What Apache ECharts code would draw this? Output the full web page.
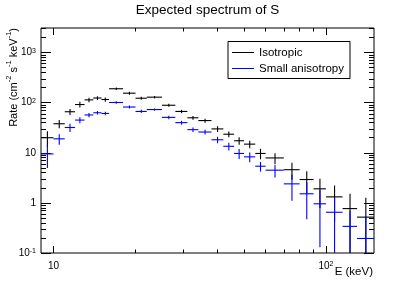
<!DOCTYPE html>
<html><head><meta charset="utf-8">
<script src="https://cdn.jsdelivr.net/npm/echarts@6/dist/echarts.min.js"></script>
<style>html,body{margin:0;padding:0;background:#fff}#c{width:415px;height:281px}</style>
</head><body><div id="c"></div>
<script>
// ---- data ----
const energyLow  = [9,10,11,12,13,14,15,16,18,20,22,25,28,31,34,38,42,46,50,55,60,70,80,90,100,115,130];
const energyHigh = [10,11,12,13,14,15,16,18,20,22,25,28,31,34,38,42,46,50,55,60,70,80,90,100,115,130,150];
const isotropicRate = [20,38,66,92,114,124,116,190,155,123,129,89,67,50,44,30,23.5,17.4,14.9,9.7,7.9,4.6,2.93,1.91,1.32,0.77,0.52];
const isotropicErr  = [7,7,9,12,12,11,11,11,10,9,7,6,5,4.5,4,4,3,3,2.5,2.3,1.9,1.7,1.37,1.12,0.9,0.75,0.75];
const anisotropyRate = [9.5,19,32,45,57,63,61,101,82,67,73,51,40,29,26,18.2,13.5,9.7,8.3,5.4,4.5,2.4,1.52,0.96,0.65,0.34,0.195];
const anisotropyErr  = [4.5,4.5,6,6,5.5,5,5,6,5.5,5,4,4,3.5,3,2.8,2.7,2.4,2.2,1.8,1.2,1.3,1.3,1.05,0.83,0.61,0.35,0.34];
const seriesNames = ['Isotropic', 'Small anisotropy'];
const xMajorTicks = [10, 100];
const xMinorTicks = [20,30,40,50,60,70,80,90];
const yMajorTicks = [0.1, 1, 10, 100, 1000];
const yMinorTicks = [0.2,0.3,0.4,0.5,0.6,0.7,0.8,0.9,2,3,4,5,6,7,8,9,20,30,40,50,60,70,80,90,200,300,400,500,600,700,800,900,2000,3000];
const X_MIN = 9, X_MAX = 150, Y_MIN = 0.1, Y_MAX = 3100;

const FONT = '"Liberation Sans", Arial, Helvetica, sans-serif';
const BLACK = '#000000', BLUE = '#0000ff';

function powLabel(v) {
  const e = Math.round(Math.log10(v));
  if (e === 0) return '1';
  if (e === 1) return '10';
  return '10{s|' + e + '}';
}
const labelRich = { s: { fontSize: 7, lineHeight: 8, verticalAlign: 'top', fontFamily: FONT, color: '#000' } };

function xAxisDef(position, ticks, len, labels) {
  return {
    type: 'log', logBase: 10, min: X_MIN, max: X_MAX, gridIndex: 0, position,
    axisLine: { show: false, onZero: false }, splitLine: { show: false },
    axisTick: { show: true, inside: true, length: len, customValues: ticks, lineStyle: { color: '#000', width: 1 } },
    axisLabel: labels ? { show: true, customValues: ticks, margin: 8, formatter: powLabel, fontSize: 10,
      color: '#000', fontFamily: FONT, rich: labelRich } : { show: false }
  };
}
function yAxisDef(position, ticks, len, labels) {
  return {
    type: 'log', logBase: 10, min: Y_MIN, max: Y_MAX, gridIndex: 0, position,
    axisLine: { show: false, onZero: false }, splitLine: { show: false },
    axisTick: { show: true, inside: true, length: len, customValues: ticks, lineStyle: { color: '#000', width: 1 } },
    axisLabel: labels ? { show: true, customValues: ticks, margin: 5, formatter: powLabel, fontSize: 10,
      color: '#000', fontFamily: FONT, rich: labelRich } : { show: false }
  };
}

function errSeries(name, rates, errs, color) {
  return {
    type: 'custom', name, xAxisIndex: 0, yAxisIndex: 0, animation: false, silent: true,
    itemStyle: { color },
    data: rates.map((r, i) => [energyLow[i], energyHigh[i], (energyLow[i] + energyHigh[i]) / 2, r, errs[i]]),
    encode: { x: [0, 1, 2], y: 3 },
    renderItem(params, api) {
      const lo = api.value(0), hi = api.value(1), xc = api.value(2), y = api.value(3), e = api.value(4);
      const yTop = Math.min(y + e, Y_MAX), yBot = Math.max(y - e, Y_MIN);
      const a = api.coord([lo, y]), b = api.coord([hi, y]);
      const c = api.coord([xc, yTop]), d = api.coord([xc, yBot]);
      return { type: 'group', children: [
        { type: 'line', shape: { x1: a[0], y1: a[1], x2: b[0], y2: b[1] }, style: { stroke: color, lineWidth: 1.1 } },
        { type: 'line', shape: { x1: c[0], y1: c[1], x2: d[0], y2: d[1] }, style: { stroke: color, lineWidth: 1.1 } }
      ] };
    }
  };
}

const chart = echarts.init(document.getElementById('c'), null, { renderer: 'canvas' });
chart.setOption({
  animation: false,
  backgroundColor: '#fff',
  title: { text: 'Expected spectrum of S', left: 'center', top: 3, padding: 0,
    textStyle: { fontSize: 13.5, fontWeight: 'normal', color: '#000', fontFamily: FONT } },
  grid: { left: 41, right: 41, top: 28, bottom: 28, show: true, borderColor: '#000', borderWidth: 1, backgroundColor: 'transparent' },
  xAxis: [
    xAxisDef('bottom', xMajorTicks, 7, true),
    xAxisDef('bottom', xMinorTicks, 3.5, false),
    xAxisDef('top', xMajorTicks, 7, false),
    xAxisDef('top', xMinorTicks, 3.5, false)
  ],
  yAxis: [
    yAxisDef('left', yMajorTicks, 10, true),
    yAxisDef('left', yMinorTicks, 5, false),
    yAxisDef('right', yMajorTicks, 10, false),
    yAxisDef('right', yMinorTicks, 5, false)
  ],
  legend: {
    left: 228, top: 41.5, orient: 'vertical', padding: [5, 6, 4, 4], itemGap: 4,
    itemWidth: 22, itemHeight: 1, icon: 'rect', borderColor: '#000', borderWidth: 1, backgroundColor: '#fff',
    textStyle: { fontSize: 11.5, color: '#000', fontFamily: FONT },
    data: seriesNames
  },
  graphic: [
    { type: 'text', x: 12, y: 28, rotation: Math.PI / 2,
      style: { text: '{n|Rate (cm}{s|-2}{n| s}{s|-1}{n| keV}{s|-1}{n|)}', align: 'right', verticalAlign: 'middle',
        fontSize: 11, fontFamily: FONT, fill: '#000',
        rich: {
          n: { fontSize: 11, lineHeight: 15, verticalAlign: 'bottom', fontFamily: FONT, fill: '#000' },
          s: { fontSize: 7.5, lineHeight: 9, verticalAlign: 'top', fontFamily: FONT, fill: '#000' }
        } } },
    { type: 'text', x: 373, y: 272,
      style: { text: 'E (keV)', align: 'right', verticalAlign: 'middle', fontSize: 11.5, fontFamily: FONT, fill: '#000' } }
  ],
  series: [
    errSeries(seriesNames[0], isotropicRate, isotropicErr, BLACK),
    errSeries(seriesNames[1], anisotropyRate, anisotropyErr, BLUE)
  ]
});
</script>
</body></html>
